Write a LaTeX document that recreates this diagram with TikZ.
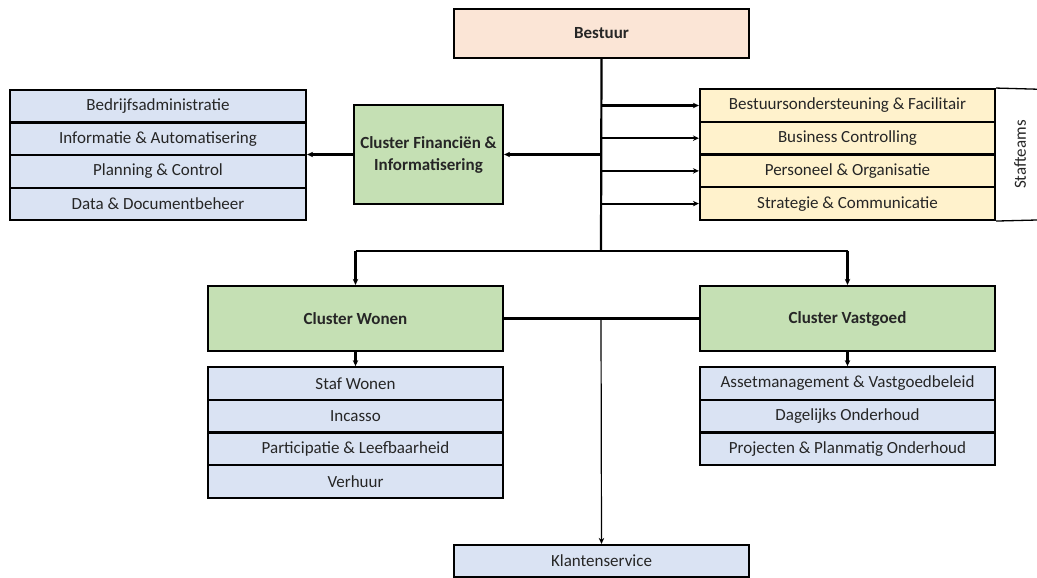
\documentclass[tikz,border=0pt]{standalone}
\usepackage{fontspec}
\setmainfont{Carlito}
\usetikzlibrary{arrows.meta}
\definecolor{peach}{HTML}{FBE5D6}
\definecolor{yellowfill}{HTML}{FFF2CC}
\definecolor{greenfill}{HTML}{C5E0B4}
\definecolor{bluefill}{HTML}{DAE3F3}
\definecolor{txt}{HTML}{262626}
\begin{document}
\begin{tikzpicture}[x=1pt,y=-1pt,
  box/.style={draw=black,line width=2.2pt,inner sep=0pt,text=txt,font=\fontsize{17}{19}\selectfont},
  bluebox/.style={box,fill=bluefill,minimum width=296,minimum height=32.6},
  yellowbox/.style={box,fill=yellowfill,minimum width=295,minimum height=32.7},
  greenbox/.style={box,fill=greenfill,font=\fontsize{17}{22}\selectfont\bfseries,align=center},
  line/.style={line width=2.2pt},
  conn/.style={line width=2.2pt,-{Stealth[length=6pt,width=5.5pt]}},
  thinconn/.style={line width=1.2pt,-{Stealth[length=6pt,width=5.5pt]}},
]
\useasboundingbox (0,0) rectangle (1037,578);

% Bestuur
\node[box,fill=peach,minimum width=295,minimum height=49,font=\fontsize{17}{19}\selectfont\bfseries] (bestuur) at (601.5,33.5) {Bestuur};
\coordinate (j) at (601,251);

% Staff boxes
\node[yellowbox] (s1) at (847.5,105.5) {Bestuursondersteuning \& Facilitair};
\node[yellowbox] (s2) at (847.5,138.2) {Business Controlling};
\node[yellowbox] (s3) at (847.5,170.9) {Personeel \& Organisatie};
\node[yellowbox] (s4) at (847.5,203.6) {Strategie \& Communicatie};
\coordinate (st1) at (1037,89.2);
\coordinate (st2) at (1037,220);
\draw[line width=1.3pt] (s1.north east) -- (st1);
\draw[line width=1.3pt] (s4.south east) -- (st2);
\node[rotate=90,text=txt,font=\fontsize{17}{19}\selectfont] (staft) at (1020,154.6) {Stafteams};

% Cluster Financien
\node[greenbox,minimum width=149,minimum height=99] (fin) at (428.5,154.5) {Cluster Financiën \&\\Informatisering};
\node[bluebox] (l1) at (158,106.2) {Bedrijfsadministratie};
\node[bluebox] (l2) at (158,138.8) {Informatie \& Automatisering};
\node[bluebox] (l3) at (158,171.4) {Planning \& Control};
\node[bluebox] (l4) at (158,204) {Data \& Documentbeheer};

% Clusters
\node[greenbox,minimum width=295,minimum height=65] (wonen) at (355.5,318.5) {Cluster Wonen};
\node[greenbox,minimum width=295,minimum height=65] (vast) at (847.5,318.5) {Cluster Vastgoed};

\node[bluebox,minimum width=295] (w1) at (355.5,383.5) {Staf Wonen};
\node[bluebox,minimum width=295] (w2) at (355.5,416.1) {Incasso};
\node[bluebox,minimum width=295] (w3) at (355.5,448.7) {Participatie \& Leefbaarheid};
\node[bluebox,minimum width=295] (w4) at (355.5,481.3) {Verhuur};

\node[bluebox,minimum width=295] (v1) at (847.5,383.5) {Assetmanagement \& Vastgoedbeleid};
\node[bluebox,minimum width=295] (v2) at (847.5,416.1) {Dagelijks Onderhoud};
\node[bluebox,minimum width=295] (v3) at (847.5,448.7) {Projecten \& Planmatig Onderhoud};

\node[bluebox,minimum width=295,minimum height=32] (klant) at (601.5,561) {Klantenservice};

% Connectors
\draw[line] (bestuur.south) -- (j);
\foreach \s in {s1,s2,s3,s4} \draw[conn] (j |- \s.west) -- (\s.west);
\draw[conn] (j |- fin.east) -- (fin.east);
\draw[conn] (fin.west) -- (fin.west -| l1.east);
\draw[line] (wonen.north |- j) -- (vast.north |- j);
\draw[conn] (wonen.north |- j) -- (wonen.north);
\draw[conn] (vast.north |- j) -- (vast.north);
\draw[line] (wonen.east) -- (vast.west);
\draw[conn] (wonen.south) -- (w1.north);
\draw[conn] (vast.south) -- (v1.north);
\draw[thinconn] (j |- wonen.east) -- (klant.north);
\end{tikzpicture}
\end{document}
